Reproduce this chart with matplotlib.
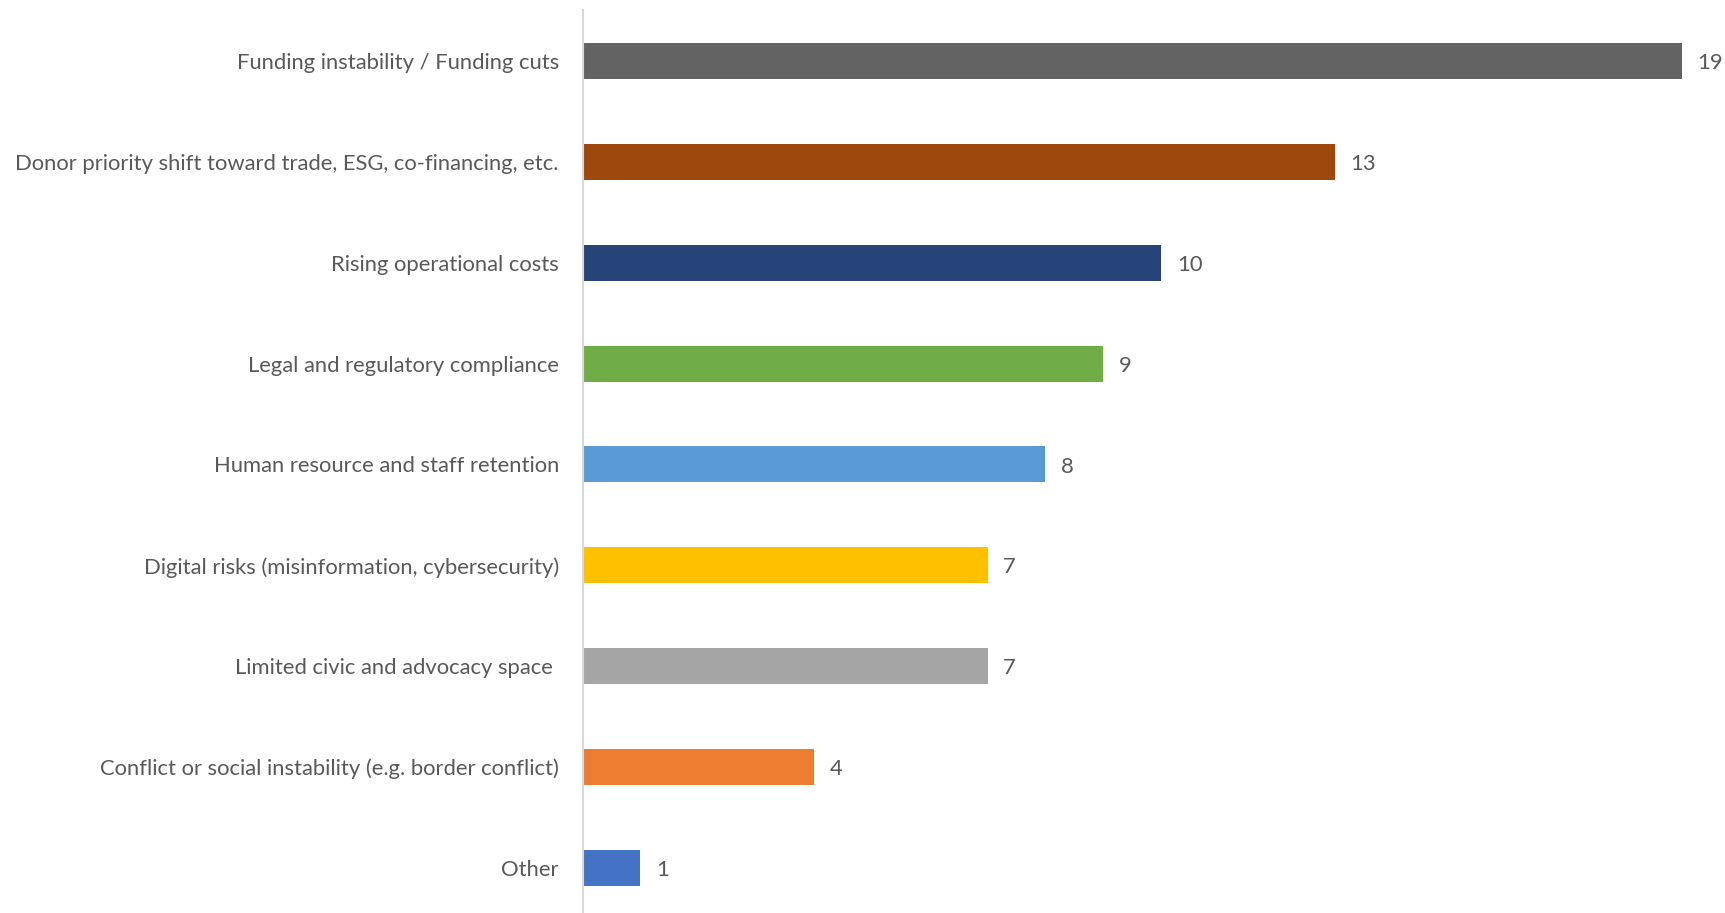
import matplotlib
matplotlib.use("Agg")
import matplotlib.pyplot as plt

categories = [
    "Funding instability / Funding cuts",
    "Donor priority shift toward trade, ESG, co-financing, etc.",
    "Rising operational costs",
    "Legal and regulatory compliance",
    "Human resource and staff retention",
    "Digital risks (misinformation, cybersecurity)",
    "Limited civic and advocacy space ",
    "Conflict or social instability (e.g. border conflict)",
    "Other",
]
counts = [19, 13, 10, 9, 8, 7, 7, 4, 1]
colors = ["#636363", "#9E480E", "#264478", "#70AD47", "#5B9BD5",
          "#FFC000", "#A5A5A5", "#ED7D31", "#4472C4"]

plt.rcParams["font.family"] = ["Lato", "DejaVu Sans"]
text_color = "#595959"
font_size = 15.8

fig = plt.figure(figsize=(17.25, 9.13), dpi=100)
ax = fig.add_axes([582.5 / 1725, -0.006, 1 - 582.5 / 1725, 0.9945])

y = list(range(len(categories)))
ax.barh(y, counts, height=0.357, color=colors)
ax.set_ylim(len(categories) - 0.5, -0.5)
ax.set_xlim(0, (1725 - 582.5) / 57.87)

for yi, v in zip(y, counts):
    ax.text(v + 0.27, yi + 0.02, str(v), va="center", ha="left",
            fontsize=font_size, color=text_color, clip_on=False)

ax.set_yticks(y)
ax.set_yticklabels(categories, fontsize=font_size, color=text_color)
ax.tick_params(axis="y", length=0, pad=17)
ax.set_xticks([])
for side in ["top", "right", "bottom"]:
    ax.spines[side].set_visible(False)
ax.spines["left"].set_color("#D9D9D9")
ax.spines["left"].set_linewidth(1.5)

fig.savefig("out.png", dpi=100)
